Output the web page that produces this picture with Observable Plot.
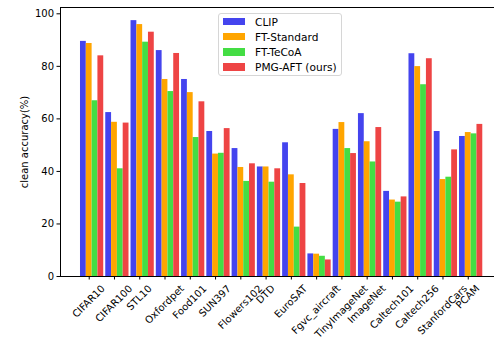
<!DOCTYPE html>
<html>
<head>
<meta charset="utf-8">
<script src="https://cdn.jsdelivr.net/npm/d3@7"></script>
<script src="https://cdn.jsdelivr.net/npm/@observablehq/plot@0.6"></script>
<style>
  html, body { margin: 0; padding: 0; overflow: hidden; background: #fff; }
  #wrap { position: relative; width: 494px; height: 341px; overflow: hidden; background: #fff; font-family: "DejaVu Sans", sans-serif; }
  #legend { position: absolute; left: 218px; top: 12.5px; width: 124px; height: 63px; box-sizing: border-box;
    border: 1px solid #d6d6d6; border-radius: 3px; background: rgba(255,255,255,0.85); font-size: 10.6px; color: #000; }
  .item { position: absolute; left: 4px; height: 12px; display: flex; align-items: center; }
  .sw { width: 22px; height: 7.5px; margin-right: 10px; }
</style>
</head>
<body>
<div id="wrap"><div id="chart"></div><div id="legend"></div></div>
<script>
const categories = ["CIFAR10","CIFAR100","STL10","Oxfordpet","Food101","SUN397","Flowers102","DTD","EuroSAT","Fgvc_aircraft","TinyImageNet","ImageNet","Caltech101","Caltech256","StanfordCars","PCAM"];
const seriesNames = ["CLIP","FT-Standard","FT-TeCoA","PMG-AFT (ours)"];
const seriesColors = ["#4444ee","#ffa500","#44dd44","#ee4444"];
const clip       = [89.5, 62.4, 97.4, 86.0, 75.0, 55.2, 48.7, 41.7, 50.9, 8.6, 56.0, 62.0, 32.4, 84.8, 55.2, 53.3];
const ftStandard = [88.7, 58.7, 95.9, 75.0, 70.0, 46.6, 41.5, 41.7, 38.7, 8.5, 58.6, 51.3, 29.1, 79.9, 36.9, 54.8];
const ftTecoa    = [66.9, 41.0, 89.2, 70.4, 52.9, 46.9, 36.2, 35.9, 18.8, 7.7, 48.7, 43.6, 28.3, 73.0, 37.8, 54.3];
const pmgAft     = [84.0, 58.4, 93.0, 84.9, 66.5, 56.3, 42.9, 41.0, 35.4, 6.3, 46.8, 56.7, 30.3, 82.9, 48.2, 57.9];
const yTicks = [0, 20, 40, 60, 80, 100];

const W = 0.23;
const X0 = -0.906, X1 = 16.269, YMAX = 102.4;
const allSeries = [clip, ftStandard, ftTecoa, pmgAft];
const rows = [];
allSeries.forEach((vals, k) => vals.forEach((v, i) => rows.push({i, k, series: seriesNames[k], value: v})));
const xTicks = categories.map((_, i) => i + W);

const plot = Plot.plot({
  width: 494, height: 341,
  marginLeft: 60, marginRight: 0, marginTop: 7, marginBottom: 65,
  style: {fontFamily: "DejaVu Sans, sans-serif", fontSize: "10px", color: "#000", background: "transparent"},
  x: {type: "linear", domain: [X0, X1]},
  y: {domain: [0, YMAX]},
  color: {domain: seriesNames, range: seriesColors},
  marks: [
    Plot.rect(rows, {x1: d => d.i + (d.k - 0.5) * W, x2: d => d.i + (d.k + 0.5) * W, y1: 0, y2: "value", fill: "series", inset: 0}),
    Plot.axisY({ticks: yTicks, tickSize: 3.5, tickPadding: 3, fontSize: 10, label: "clean accuracy(%)", labelAnchor: "center", labelOffset: 40, labelArrow: false}),
    Plot.axisX({ticks: xTicks, tickFormat: d => categories[Math.round(d - W)], tickSize: 3.5, tickRotate: -45, textAnchor: "middle", fontSize: 10, label: null}),
    Plot.ruleY([0, YMAX], {stroke: "#000", strokeWidth: 1}),
    Plot.ruleX([X0], {stroke: "#000", strokeWidth: 1})
  ]
});
document.getElementById("chart").appendChild(plot);

// place rotated tick labels matplotlib-style (bbox centred under tick)
const xs = plot.scale("x");
const svg = d3.select(plot);
const labelGroup = svg.select('g[aria-label="x-axis tick label"]');
labelGroup.attr("transform", null);
labelGroup.selectAll("text").each(function(d, j) {
  const L = this.getComputedTextLength();
  const cx = xs.apply(xTicks[j]);
  const cy = 276 + 7 + (L + 11) * 0.7071 / 2;
  d3.select(this).attr("x", null).attr("y", null).attr("dy", "0.32em")
    .attr("text-anchor", "middle")
    .attr("transform", `translate(${cx},${cy}) rotate(-45)`);
});

const legend = document.getElementById("legend");
seriesNames.forEach((name, k) => {
  const it = document.createElement("div");
  it.className = "item";
  it.style.top = (2 + k * 15.2) + "px";
  it.innerHTML = `<span class="sw" style="background:${seriesColors[k]}"></span><span>${name}</span>`;
  legend.appendChild(it);
});
</script>
</body>
</html>
